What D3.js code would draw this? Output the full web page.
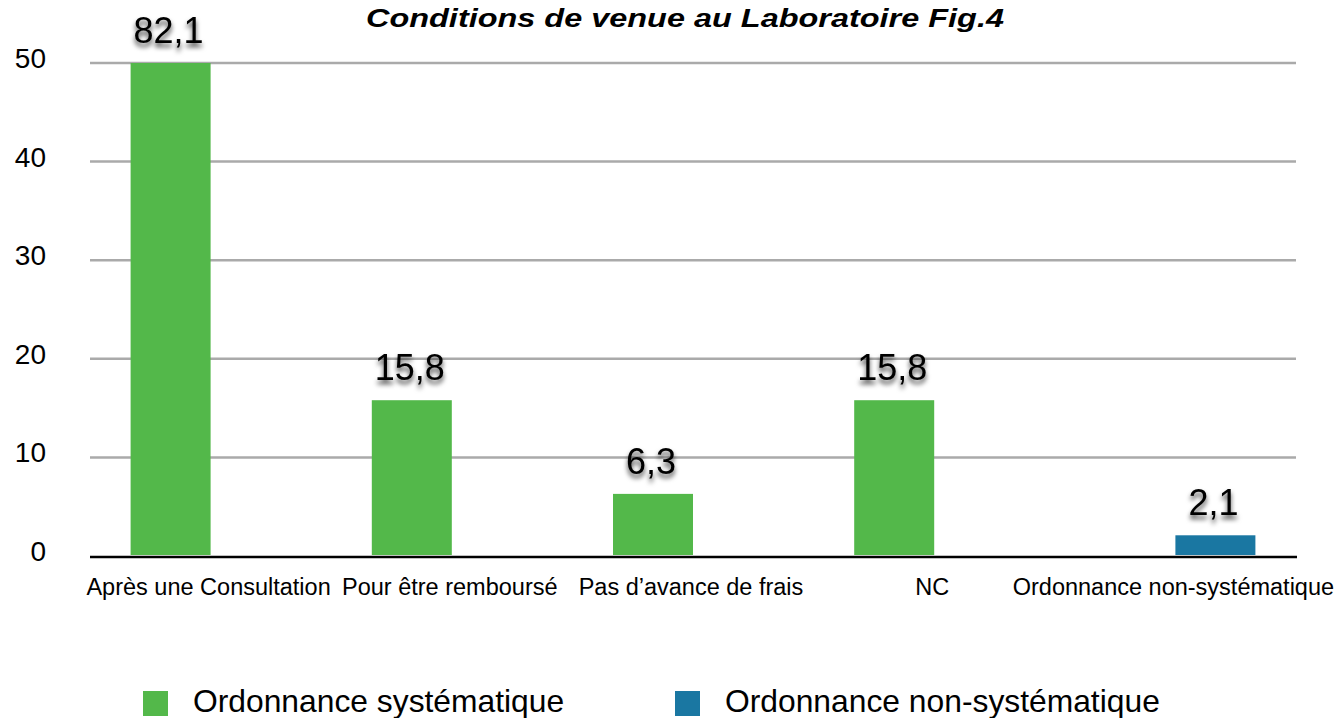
<!DOCTYPE html>
<html>
<head>
<meta charset="utf-8">
<script src="https://cdn.jsdelivr.net/npm/d3@7"></script>
<style>
body{margin:0;background:#fff;}
svg text{font-family:"Liberation Sans", Arial, Helvetica, sans-serif;}
</style>
</head>
<body>
<svg id="main_svg" width="1340" height="718"></svg>
<script>
// chart data
const categories = ["Après une Consultation", "Pour être remboursé", "Pas d\u2019avance de frais", "NC", "Ordonnance non-systématique"]
const series_names = ["Ordonnance systématique", "Ordonnance non-systématique"]
const series_colors = ["#53b84a", "#1a77a2"]
const val_syst = [82.1, 15.8, 6.3, 15.8, 0]
const val_nonsyst = [0, 0, 0, 0, 2.1]
const y_ticks = [0, 10, 20, 30, 40, 50]
const title = "Conditions de venue au Laboratoire Fig.4"

const svg = d3.select("#main_svg")
const left = 90, right = 1296, top_y = 63, bottom_y = 556
const y_max = 50

const x = d3.scaleBand().domain(categories).range([left, right]).padding(0)
const y = d3.scaleLinear().domain([0, y_max]).range([bottom_y, top_y])
const sub = d3.scaleBand().domain(series_names).range([-80, 80]).padding(0)

// shadow under the value labels
const defs = svg.append("defs")
const f = defs.append("filter").attr("id", "shadow").attr("x", "-20%").attr("y", "-20%").attr("width", "140%").attr("height", "170%")
f.append("feDropShadow").attr("dx", 0).attr("dy", 4).attr("stdDeviation", 2.5)
    .attr("flood-color", "#000").attr("flood-opacity", 0.75)

// title
svg.append("text")
    .attr("x", 685).attr("y", 27)
    .attr("text-anchor", "middle")
    .attr("font-size", 26)
    .attr("font-weight", "bold")
    .attr("font-style", "italic")
    .attr("textLength", 638)
    .attr("lengthAdjust", "spacingAndGlyphs")
    .text(title)

// gridlines
svg.append("g").selectAll("line")
    .data(y_ticks.filter(d => d > 0))
    .join("line")
    .attr("x1", left).attr("x2", right)
    .attr("y1", d => y(d)).attr("y2", d => y(d))
    .attr("stroke", "#aaaaaa")
    .attr("stroke-width", 2.5)

// y tick labels
svg.append("g").selectAll("text")
    .data(y_ticks)
    .join("text")
    .attr("x", 46)
    .attr("y", d => y(d) + 5)
    .attr("text-anchor", "end")
    .attr("font-size", 28)
    .text(d => d)

// bars
const rows = []
categories.forEach((c, i) => {
    rows.push({cat: c, s: 0, v: val_syst[i]})
    rows.push({cat: c, s: 1, v: val_nonsyst[i]})
})
const shown = rows.filter(r => r.v > 0)

svg.append("g").selectAll("rect")
    .data(shown)
    .join("rect")
    .attr("x", d => x(d.cat) + x.bandwidth() / 2 + sub(series_names[d.s]))
    .attr("width", sub.bandwidth())
    .attr("y", d => y(Math.min(d.v, y_max)))
    .attr("height", d => y(0) - 1 - y(Math.min(d.v, y_max)))
    .attr("fill", d => series_colors[d.s])

// value labels
svg.append("g").selectAll("text")
    .data(shown)
    .join("text")
    .attr("x", d => x(d.cat) + x.bandwidth() / 2 + sub(series_names[d.s]) + sub.bandwidth() / 2 - 2)
    .attr("y", d => y(Math.min(d.v, y_max)) - 20)
    .attr("text-anchor", "middle")
    .attr("font-size", 36)
    .attr("filter", "url(#shadow)")
    .text(d => String(d.v).replace(".", ","))

// x axis line
svg.append("line")
    .attr("x1", left).attr("x2", right + 1)
    .attr("y1", bottom_y + 1).attr("y2", bottom_y + 1)
    .attr("stroke", "#000")
    .attr("stroke-width", 2.5)

// category labels
svg.append("g").selectAll("text")
    .data(categories)
    .join("text")
    .attr("x", d => x(d) + x.bandwidth() / 2 - 2)
    .attr("y", 595)
    .attr("text-anchor", "middle")
    .attr("font-size", 23.5)
    .text(d => d)

// legend
const legend_x = [143, 675]
const lg = svg.append("g").selectAll("g")
    .data(series_names)
    .join("g")
    .attr("transform", (d, i) => "translate(" + legend_x[i] + ",691)")
lg.append("rect")
    .attr("width", 25).attr("height", 25)
    .attr("fill", (d, i) => series_colors[i])
lg.append("text")
    .attr("x", 50).attr("y", 21)
    .attr("font-size", 31.8)
    .text(d => d)
</script>
</body>
</html>
